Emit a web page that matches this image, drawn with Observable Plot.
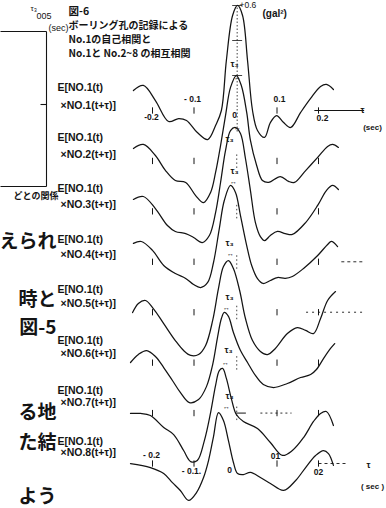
<!DOCTYPE html>
<html><head><meta charset="utf-8">
<script src="https://cdn.jsdelivr.net/npm/d3@7"></script>
<script src="https://cdn.jsdelivr.net/npm/@observablehq/plot@0.6"></script>
<style>html,body{margin:0;padding:0;background:#fff}svg{display:block}</style>
</head><body><div id="chart"></div>
<script>
// ---- data: lag tau (sec) and correlation (gal^2) for each curve ----
const tau1=[-0.246,-0.222,-0.193,-0.161,-0.137,-0.118,-0.092,-0.067,-0.048,-0.034,-0.022,-0.007,0.005,0.017,0.029,0.041,0.053,0.070,0.084,0.099,0.116,0.133,0.157,0.181,0.205,0.219,0.236];
const r1  =[0.114,0.143,0.057,-0.063,-0.046,-0.057,-0.126,-0.166,-0.086,0,0.286,0.543,0.600,0.543,0.286,0,-0.114,-0.154,-0.069,-0.029,-0.069,-0.097,-0.011,0.069,0.137,0.149,0.120];
const tau2=[-0.246,-0.222,-0.193,-0.169,-0.145,-0.120,-0.096,-0.077,-0.060,-0.048,-0.036,-0.024,-0.012,0.002,0.014,0.027,0.036,0.051,0.065,0.080,0.108,0.128,0.142,0.169,0.198,0.222,0.234,0.248];
const r2  =[0.071,0.094,0.031,-0.054,-0.112,-0.123,-0.198,-0.238,-0.180,-0.066,0.088,0.260,0.420,0.488,0.431,0.277,0.117,-0.026,-0.112,-0.123,-0.089,-0.117,-0.123,-0.055,0.020,0.083,0.094,0.077];
const tau3=[-0.246,-0.222,-0.193,-0.164,-0.145,-0.120,-0.101,-0.080,-0.063,-0.048,-0.036,-0.024,-0.012,0.000,0.012,0.024,0.036,0.048,0.060,0.070,0.084,0.101,0.120,0.137,0.169,0.198,0.219,0.234,0.248];
const r3  =[0.068,0.085,0.016,-0.081,-0.115,-0.127,-0.149,-0.178,-0.138,-0.007,0.165,0.348,0.462,0.479,0.445,0.302,0.119,-0.064,-0.144,-0.167,-0.138,-0.115,-0.127,-0.132,-0.064,0.034,0.119,0.148,0.125];
const tau4=[-0.246,-0.227,-0.200,-0.173,-0.145,-0.120,-0.101,-0.084,-0.067,-0.053,-0.039,-0.027,-0.012,0.000,0.012,0.027,0.039,0.053,0.067,0.084,0.101,0.120,0.137,0.164,0.198,0.222,0.231,0.246];
const r4  =[0.105,0.116,0.065,-0.021,-0.067,-0.095,-0.130,-0.147,-0.118,-0.004,0.190,0.350,0.436,0.396,0.264,0.093,-0.021,-0.096,-0.124,-0.107,-0.090,-0.095,-0.084,-0.038,0.036,0.099,0.116,0.087];
const tau5=[-0.248,-0.234,-0.217,-0.198,-0.173,-0.145,-0.125,-0.108,-0.089,-0.072,-0.055,-0.041,-0.029,-0.017,-0.005,0.010,0.024,0.041,0.060,0.077,0.096,0.125,0.149,0.169,0.188,0.205,0.222,0.241];
const r5  =[-0.002,0.050,0.067,0.021,-0.065,-0.162,-0.219,-0.247,-0.242,-0.190,-0.047,0.136,0.261,0.295,0.250,0.124,-0.036,-0.162,-0.224,-0.242,-0.207,-0.122,-0.088,-0.104,-0.122,-0.036,0.067,0.118];
const tau6=[-0.253,-0.234,-0.214,-0.193,-0.173,-0.152,-0.133,-0.111,-0.089,-0.070,-0.055,-0.043,-0.034,-0.027,-0.017,-0.005,0.012,0.029,0.048,0.067,0.092,0.125,0.157,0.181,0.195,0.212,0.229,0.239];
const r6  =[0.001,0.047,0.069,0.035,-0.028,-0.102,-0.170,-0.228,-0.211,-0.137,-0.011,0.149,0.252,0.287,0.264,0.172,0.069,0.001,-0.073,-0.125,-0.142,-0.119,-0.085,-0.068,-0.039,0.023,0.081,0.109];
const tau7=[-0.253,-0.229,-0.205,-0.173,-0.149,-0.125,-0.108,-0.092,-0.075,-0.060,-0.048,-0.039,-0.031,-0.022,-0.010,0.002,0.019,0.053,0.084,0.113,0.137,0.164,0.188,0.205,0.219,0.236];
const r7  =[-0.002,-0.002,-0.014,-0.082,-0.123,-0.214,-0.277,-0.271,-0.157,0.003,0.158,0.243,0.255,0.198,0.083,-0.008,-0.048,-0.088,-0.168,-0.242,-0.214,-0.140,-0.048,-0.002,0.009,-0.071];
const tau8=[-0.253,-0.205,-0.173,-0.152,-0.133,-0.113,-0.094,-0.077,-0.065,-0.053,-0.041,-0.029,-0.017,-0.005,0.005,0.019,0.036,0.060,0.084,0.116,0.145,0.169,0.193,0.212,0.224,0.236];
const r8  =[0.000,-0.023,-0.057,-0.109,-0.154,-0.211,-0.166,-0.080,0.017,0.154,0.291,0.246,0.131,0.006,-0.057,-0.063,-0.051,-0.080,-0.114,-0.154,-0.097,-0.023,0.046,0.074,0.057,-0.011];

const curveNames=["×NO.1(t+τ)]","×NO.2(t+τ)]","×NO.3(t+τ)]","×NO.4(t+τ)]","×NO.5(t+τ)]","×NO.6(t+τ)]","×NO.7(t+τ)]","×NO.8(t+τ)]"];
const tickValues=[-0.2,-0.1,0.1,0.2];
const topTickLabels=["-0.2","- 0.1","0","0.1","0.2"];
const bottomTickLabels=["- 0.2","- 0.1.","0","01","02"];
const titleLines=["図-6","ボーリング孔の記録による","No.1の自己相関と","No.1と No.2~8 の相互相関"];
const sideText=["えられ","時と","図-5","る地","た結","よう"];

// ---- layout ----
const W=386,H=508;
const PXS=415;            // px per second of lag
const X0=-235/PXS, X1=(W-235)/PXS;
const PYS=175;            // px per gal^2
const Y1=110/PYS, Y0=(110-H)/PYS;
const SP=50.43/PYS;       // vertical offset between curves
const tx=px=>X0+px/PXS, ty=py=>Y1-py/PYS;

const taus=[tau1,tau2,tau3,tau4,tau5,tau6,tau7,tau8];
const rs=[r1,r2,r3,r4,r5,r6,r7,r8];
const pts=[];
taus.forEach((t,k)=>t.forEach((tv,i)=>pts.push({tau:tv,v:rs[k][i]-k*SP,k})));

const ink="#141414";
const T=(arr,opt)=>Plot.text(arr,{x:d=>tx(d[0]),y:d=>ty(d[1]),text:d=>d[2],fill:ink,lineAnchor:"middle",...opt});
const L=(arr,opt)=>Plot.link(arr,{x1:d=>tx(d[0]),y1:d=>ty(d[1]),x2:d=>tx(d[2]),y2:d=>ty(d[3]),stroke:ink,...opt});

const ticks=[];
for(let k=0;k<8;k++) for(const t of tickValues) ticks.push({t,k});
const zeroDots=[];
for(let k=1;k<7;k++) zeroDots.push({k});

const base=k=>-k*SP;
const cjk="'Noto Sans CJK JP', sans-serif";
const lat="'Liberation Sans', Arial, sans-serif";

const chart=Plot.plot({
  width:W,height:H,margin:0,
  x:{domain:[X0,X1],range:[0,W],axis:null},
  y:{domain:[Y0,Y1],range:[H,0],axis:null},
  style:{background:"#fff",overflow:"visible"},
  marks:[
    Plot.line(pts,{x:"tau",y:"v",z:"k",curve:"catmull-rom",stroke:ink,strokeWidth:1.25}),
    Plot.link(ticks,{x1:"t",x2:"t",y1:d=>base(d.k)-0.018,y2:d=>base(d.k)+0.018,stroke:ink,strokeWidth:1}),
    Plot.link(zeroDots,{x1:0.003,x2:0.003,y1:d=>base(d.k)-0.04,y2:d=>base(d.k)+0.04,stroke:ink,strokeWidth:0.8,strokeDasharray:"1.5,2.5"}),
    Plot.link([{}],{x1:0.004,x2:0.004,y1:-0.12,y2:0.6,stroke:ink,strokeWidth:0.8,strokeDasharray:"1.5,2"}),
    Plot.link([0.2,0.4,0.6],{x1:-0.008,x2:0.016,y1:d=>d,y2:d=>d,stroke:ink,strokeWidth:0.8}),
    Plot.link([{}],{x1:0.19,x2:0.31,y1:0,y2:0,stroke:ink,strokeWidth:1}),
    Plot.link([{}],{x1:0.255,x2:0.31,y1:base(3),y2:base(3),stroke:ink,strokeWidth:0.9,strokeDasharray:"3,3"}),
    Plot.link([{}],{x1:0.17,x2:0.31,y1:base(4),y2:base(4),stroke:ink,strokeWidth:0.9,strokeDasharray:"2,4"}),
    Plot.link([{}],{x1:0.0,x2:0.025,y1:base(6),y2:base(6),stroke:ink,strokeWidth:1}),
    Plot.link([{}],{x1:0.06,x2:0.135,y1:base(6),y2:base(6),stroke:ink,strokeWidth:0.9,strokeDasharray:"2,3"}),
    Plot.link([{}],{x1:0.2,x2:0.27,y1:base(7),y2:base(7),stroke:ink,strokeWidth:0.9,strokeDasharray:"3,3"}),
    L([[0,31,46,31],[46,31,46,186],[0,186,46,186],[40,104,46,104]],{strokeWidth:1.1}),
    T([[68,11,titleLines[0]]],{fontFamily:cjk,fontSize:10.5,fontWeight:"bold",textAnchor:"start"}),
    T(titleLines.slice(1).map((s,i)=>[68,25+14*i,s]),{fontFamily:cjk,fontSize:10,fontWeight:"bold",textAnchor:"start"}),
    T([[239,5,"+0.6"]],{fontFamily:lat,fontSize:8.5,textAnchor:"start"}),
    T([[262,13,"(gal²)"]],{fontFamily:lat,fontSize:10,fontWeight:"bold",textAnchor:"start"}),
    T(curveNames.map((s,k)=>[57,87+50.6*k,"E[NO.1(t)"]),{fontFamily:lat,fontSize:10.5,fontWeight:"bold",textAnchor:"start"}),
    T(curveNames.map((s,k)=>[60,105+49.6*k,s]),{fontFamily:lat,fontSize:10.5,fontWeight:"bold",textAnchor:"start"}),
    T([[234,64],[229,139],[234,171],[229,243],[229,297],[228,350],[229,396]].map(p=>[p[0],p[1],"τ₃"]),{fontFamily:lat,fontSize:9,fontWeight:"bold",textAnchor:"middle"}),
    T([[237,77],[237,127],[233,181],[230,253],[226,307],[225,362],[226,406]].map(p=>[p[0],p[1],"↔"]),{fontFamily:lat,fontSize:7,fontWeight:"bold",textAnchor:"middle"}),
    T([[151,117,topTickLabels[0]],[192,99,topTickLabels[1]],[234,115,topTickLabels[2]],[279,99,topTickLabels[3]],[322,118,topTickLabels[4]]],{fontFamily:lat,fontSize:8.5,fontWeight:"bold",textAnchor:"middle"}),
    T([[362,110,"τ"]],{fontFamily:lat,fontSize:9,fontWeight:"bold",textAnchor:"middle"}),
    T([[372,127,"(sec)"]],{fontFamily:lat,fontSize:8,fontWeight:"bold",textAnchor:"middle"}),
    T([[151,455,bottomTickLabels[0]],[191,471,bottomTickLabels[1]],[229,470,bottomTickLabels[2]],[275,456,bottomTickLabels[3]],[318,472,bottomTickLabels[4]]],{fontFamily:lat,fontSize:8.5,fontWeight:"bold",textAnchor:"middle"}),
    T([[368,465,"τ"]],{fontFamily:lat,fontSize:9,fontWeight:"bold",textAnchor:"middle"}),
    T([[372,486,"( sec )"]],{fontFamily:lat,fontSize:8,fontWeight:"bold",textAnchor:"middle"}),
    T([[30,8,"τ₃"]],{fontFamily:lat,fontSize:8,textAnchor:"start"}),
    T([[36,16,"005"]],{fontFamily:lat,fontSize:9,textAnchor:"start"}),
    T([[48,28,"(sec)"]],{fontFamily:lat,fontSize:9,textAnchor:"start"}),
    T([[58,196,"どとの関係"]],{fontFamily:cjk,fontSize:9,fontWeight:"bold",textAnchor:"end"}),
    T([[56,241,sideText[0]],[56,299,sideText[1]],[56,327,sideText[2]],[56,412,sideText[3]],[56,442,sideText[4]],[56,496,sideText[5]]],{fontFamily:cjk,fontSize:19,fontWeight:"bold",textAnchor:"end"})
  ]
});
document.getElementById("chart").appendChild(chart);
</script>
</body></html>
